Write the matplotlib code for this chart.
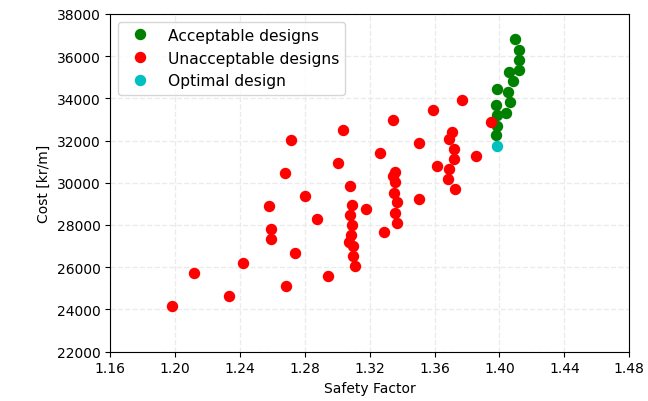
import numpy as np
import matplotlib.pyplot as plt

# acceptable designs (safety factor, cost)
acc_sf = [1.4097, 1.4123, 1.4123, 1.4123, 1.4056, 1.4085, 1.3988, 1.4052,
          1.3980, 1.4062, 1.4040, 1.3984, 1.3984, 1.3980]
acc_cost = [36810, 36300, 35830, 35350, 35245, 34830, 34440, 34280,
            33660, 33810, 33300, 33190, 32710, 32240]

# unacceptable designs
unacc_sf = [1.1984, 1.2114, 1.2334, 1.2418, 1.2687, 1.2739, 1.2593, 1.2593,
            1.2582, 1.2802, 1.2675, 1.2712, 1.3038, 1.3003, 1.2878, 1.2942,
            1.3080, 1.3176, 1.3090, 1.3080, 1.3090, 1.3085, 1.3070, 1.3098,
            1.3097, 1.3109, 1.3345, 1.3265, 1.3359, 1.3345, 1.3353, 1.3347,
            1.3367, 1.3353, 1.3367, 1.3291, 1.3505, 1.3501, 1.3593, 1.3770,
            1.3613, 1.3707, 1.3688, 1.3719, 1.3717, 1.3690, 1.3682, 1.3723,
            1.3855, 1.3945]
unacc_cost = [24140, 25745, 24620, 26200, 25095, 26680, 27310, 27790,
              28890, 29370, 30450, 32030, 32500, 30920, 28260, 25590,
              29845, 28740, 28940, 28450, 27980, 27520, 27170, 27010,
              26540, 26060, 32965, 31400, 30495, 30320, 30020, 29530,
              29070, 28580, 28105, 27645, 29225, 31870, 33440, 33930,
              30795, 32380, 32060, 31590, 31110, 30650, 30195, 29700,
              31270, 32855]

# optimal design
opt_sf = [1.3984]
opt_cost = [31760]

fig = plt.figure(figsize=(6.48, 4.02), dpi=100)
ax = fig.add_axes([0.17, 0.123, 0.801, 0.84])

ax.plot(acc_sf, acc_cost, 'o', color='g', ms=7.2, label='Acceptable designs')
ax.plot(unacc_sf, unacc_cost, 'o', color='r', ms=7.2, label='Unacceptable designs')
ax.plot(opt_sf, opt_cost, 'o', color='c', ms=7.2, label='Optimal design')

ax.set_xlim(1.16, 1.48)
ax.set_ylim(22000, 38000)
ax.set_xticks(np.arange(1.16, 1.481, 0.04))
ax.set_xticklabels(['%.2f' % v for v in np.arange(1.16, 1.481, 0.04)])
ax.set_yticks(np.arange(22000, 38001, 2000))
ax.grid(True, linestyle='--', color='#ebebeb', linewidth=1)
ax.set_axisbelow(True)
ax.set_xlabel('Safety Factor')
ax.set_ylabel('Cost [kr/m]')
ax.legend(loc='upper left', fontsize=11.2)

fig.savefig('out.png', dpi=100)
